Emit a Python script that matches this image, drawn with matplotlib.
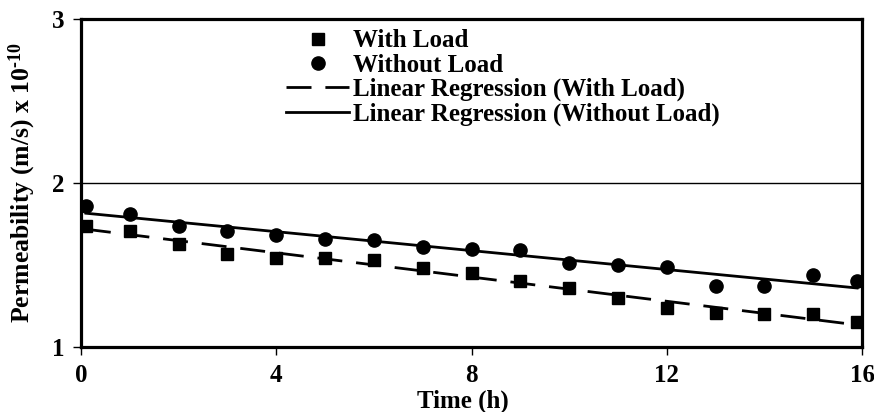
import numpy as np
import matplotlib
matplotlib.use('Agg')
from matplotlib import pyplot as plt

# data
time_h = [0.1, 1, 2, 3, 4, 5, 6, 7, 8, 9, 10, 11, 12, 13, 14, 15, 15.9]
with_load = [1.74, 1.71, 1.63, 1.57, 1.54, 1.54, 1.53, 1.48, 1.45, 1.40,
             1.36, 1.30, 1.24, 1.21, 1.20, 1.20, 1.15]
without_load = [1.86, 1.81, 1.74, 1.71, 1.68, 1.66, 1.65, 1.61, 1.60, 1.59,
                1.51, 1.50, 1.49, 1.37, 1.37, 1.44, 1.40]
x_ticks = [0, 4, 8, 12, 16]
y_ticks = [1, 2, 3]

plt.rcParams['font.family'] = ['Liberation Serif', 'DejaVu Serif']
plt.rcParams['font.weight'] = 'bold'
plt.rcParams['mathtext.fontset'] = 'custom'
plt.rcParams['mathtext.rm'] = 'Liberation Serif:bold'
plt.rcParams['mathtext.default'] = 'rm'

x = np.array(time_h)
m1, b1 = np.polyfit(x, with_load, 1)
m2, b2 = np.polyfit(x, without_load, 1)

fig = plt.figure(figsize=(8.74, 4.12), dpi=100)
ax = fig.add_axes([0.0927, 0.1578, 0.8936, 0.7961])

ax.grid(axis='y', color='black', linewidth=1.0, zorder=0)

ax.plot(x, with_load, 's', color='black', markersize=8, linestyle='none',
        label='With Load', zorder=3)
ax.plot(x, without_load, 'o', color='black', markersize=9.5, linestyle='none',
        label='Without Load', zorder=3)
ax.plot(x, m1*x + b1, color='black', linewidth=2, linestyle=(0, (9, 5)),
        label='Linear Regression (With Load)', zorder=2)
ax.plot(x, m2*x + b2, color='black', linewidth=2, linestyle='-',
        label='Linear Regression (Without Load)', zorder=2)

ax.set_xlim(0, 16)
ax.set_ylim(1, 3)
ax.set_xticks(x_ticks)
ax.set_yticks(y_ticks)
ax.tick_params(direction='out', length=6, width=1, labelsize=18, pad=6)
for s in ax.spines.values():
    s.set_linewidth(2.3)

ax.set_xlabel('Time (h)', fontsize=18, fontweight='bold')
ax.xaxis.set_label_coords(0.489, -0.13)
ax.set_ylabel(r'Permeability (m/s) x 10$^{\text{-10}}$', fontsize=18.5,
              fontweight='bold')
ax.yaxis.set_label_coords(-0.055, 0.5)

ax.legend(loc='upper left', bbox_to_anchor=(0.263, 0.968), frameon=False,
          fontsize=18, handlelength=2.5, handletextpad=0.15,
          labelspacing=0.05, borderpad=0, borderaxespad=0)

fig.savefig('out.png', dpi=100)
